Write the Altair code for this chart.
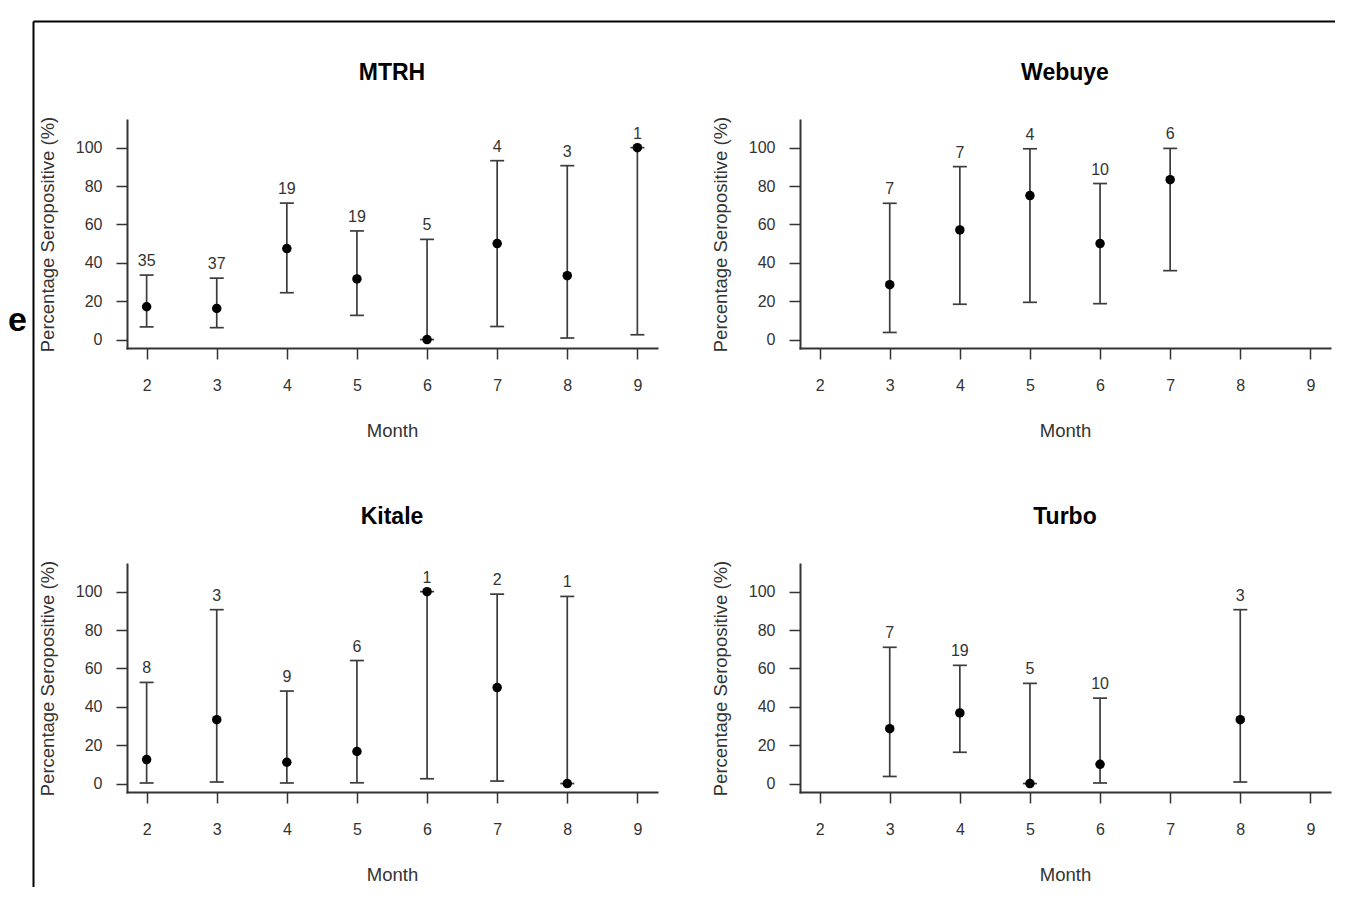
import altair as alt
import pandas as pd

# ---------------- data ----------------
sites = ["MTRH", "Webuye", "Kitale", "Turbo"]

mtrh_month = [2, 3, 4, 5, 6, 7, 8, 9]
mtrh_n = [35, 37, 19, 19, 5, 4, 3, 1]
mtrh_pct = [17.1, 16.2, 47.4, 31.6, 0.0, 50.0, 33.3, 100.0]
mtrh_lo = [6.6, 6.2, 24.4, 12.6, 0.0, 6.8, 0.8, 2.5]
mtrh_hi = [33.6, 32.0, 71.1, 56.6, 52.2, 93.2, 90.6, 100.0]

webuye_month = [3, 4, 5, 6, 7]
webuye_n = [7, 7, 4, 10, 6]
webuye_pct = [28.6, 57.1, 75.0, 50.0, 83.3]
webuye_lo = [3.7, 18.4, 19.4, 18.7, 35.9]
webuye_hi = [71.0, 90.1, 99.4, 81.3, 99.6]

kitale_month = [2, 3, 4, 5, 6, 7, 8]
kitale_n = [8, 3, 9, 6, 1, 2, 1]
kitale_pct = [12.5, 33.3, 11.1, 16.7, 100.0, 50.0, 0.0]
kitale_lo = [0.3, 0.8, 0.3, 0.4, 2.5, 1.3, 0.0]
kitale_hi = [52.7, 90.6, 48.2, 64.1, 100.0, 98.7, 97.5]

turbo_month = [3, 4, 5, 6, 8]
turbo_n = [7, 19, 5, 10, 3]
turbo_pct = [28.6, 36.8, 0.0, 10.0, 33.3]
turbo_lo = [3.7, 16.3, 0.0, 0.3, 0.8]
turbo_hi = [71.0, 61.6, 52.2, 44.5, 90.6]

month_ticks = [2, 3, 4, 5, 6, 7, 8, 9]
pct_ticks = [0, 20, 40, 60, 80, 100]

site_data = {
    "MTRH": (mtrh_month, mtrh_n, mtrh_pct, mtrh_lo, mtrh_hi),
    "Webuye": (webuye_month, webuye_n, webuye_pct, webuye_lo, webuye_hi),
    "Kitale": (kitale_month, kitale_n, kitale_pct, kitale_lo, kitale_hi),
    "Turbo": (turbo_month, turbo_n, turbo_pct, turbo_lo, turbo_hi),
}

# ---------------- styling ----------------
F = "Liberation Sans, Arial, sans-serif"
W, H = 530, 228
XDOM = [1.72, 9.28]
YDOM = [-4.4, 114.4]
BAR = "#3c3c3c"
AX = "#333333"

one = pd.DataFrame({"k": [0]})


def xenc():
    return alt.X(
        "month:Q",
        scale=alt.Scale(domain=XDOM, nice=False, zero=False),
        axis=alt.Axis(values=month_ticks, title="Month", format="d",
                      labelPadding=18, titlePadding=28, labelFlush=False),
    )


def yenc(field):
    return alt.Y(
        f"{field}:Q",
        scale=alt.Scale(domain=YDOM, nice=False, zero=False),
        axis=alt.Axis(values=pct_ticks, title="Percentage Seropositive (%)",
                      format="d", labelPadding=14, titlePadding=18,
                      labelFlush=False),
    )


def panel(site, extra=None):
    m, n, p, lo, hi = site_data[site]
    df = pd.DataFrame({"month": m, "n": n, "pct": p, "lo": lo, "hi": hi})
    base = alt.Chart(df)
    bars = base.mark_rule(color=BAR, strokeWidth=1.7).encode(
        x=xenc(), y=yenc("lo"), y2=alt.Y2("hi:Q"))
    cap_lo = base.mark_tick(orient="horizontal", size=14, thickness=1.7,
                            color=BAR, opacity=1).encode(x=xenc(), y=yenc("lo"))
    cap_hi = base.mark_tick(orient="horizontal", size=14, thickness=1.7,
                            color=BAR, opacity=1).encode(x=xenc(), y=yenc("hi"))
    labels = base.mark_text(dy=-14, baseline="middle", align="center",
                            font=F, fontSize=16, color=AX).encode(
        x=xenc(), y=yenc("hi"), text=alt.Text("n:Q", format="d"))
    pts = base.mark_circle(size=90, color="black", opacity=1).encode(
        x=xenc(), y=yenc("pct"))
    title = alt.Chart(one).mark_text(
        text=site, font=F, fontSize=23, fontWeight="bold", color="black",
        align="center", baseline="alphabetic").encode(
        x=alt.value(W / 2), y=alt.value(-40))
    layers = [bars, cap_lo, cap_hi, labels, pts, title]
    if extra:
        layers += extra
    return alt.layer(*layers).properties(width=W, height=H)


# figure frame (cropped border) and the cut-off panel letter
frame_left = alt.Chart(one).mark_rule(color="black", strokeWidth=2).encode(
    x=alt.value(-93.5), y=alt.value(-98.5), y2=alt.value(767))
frame_top = alt.Chart(one).mark_rule(color="black", strokeWidth=2).encode(
    x=alt.value(-93.5), x2=alt.value(1208), y=alt.value(-98.5))
letter = alt.Chart(one).mark_text(
    text="e", font=F, fontSize=34, fontWeight="bold", color="black",
    align="left", baseline="alphabetic").encode(
    x=alt.value(-119), y=alt.value(211))

chart = alt.concat(
    panel("MTRH", [frame_left, frame_top, letter]),
    panel("Webuye"),
    panel("Kitale"),
    panel("Turbo"),
    columns=2,
    spacing={"row": 216, "column": 143},
    bounds="flush",
).properties(
    padding={"left": 0, "top": 12, "right": 0, "bottom": 0},
    background="white",
).configure_view(stroke=None).configure_axis(
    grid=False,
    domainColor=AX, domainWidth=2, domainCap="square",
    tickColor=AX, tickWidth=1.5, tickSize=11,
    labelFont=F, labelFontSize=16, labelColor=AX,
    titleFont=F, titleFontSize=18.5, titleFontWeight="normal", titleColor=AX,
)

chart.save("out.html", embed_options={"renderer": "svg", "actions": False})
